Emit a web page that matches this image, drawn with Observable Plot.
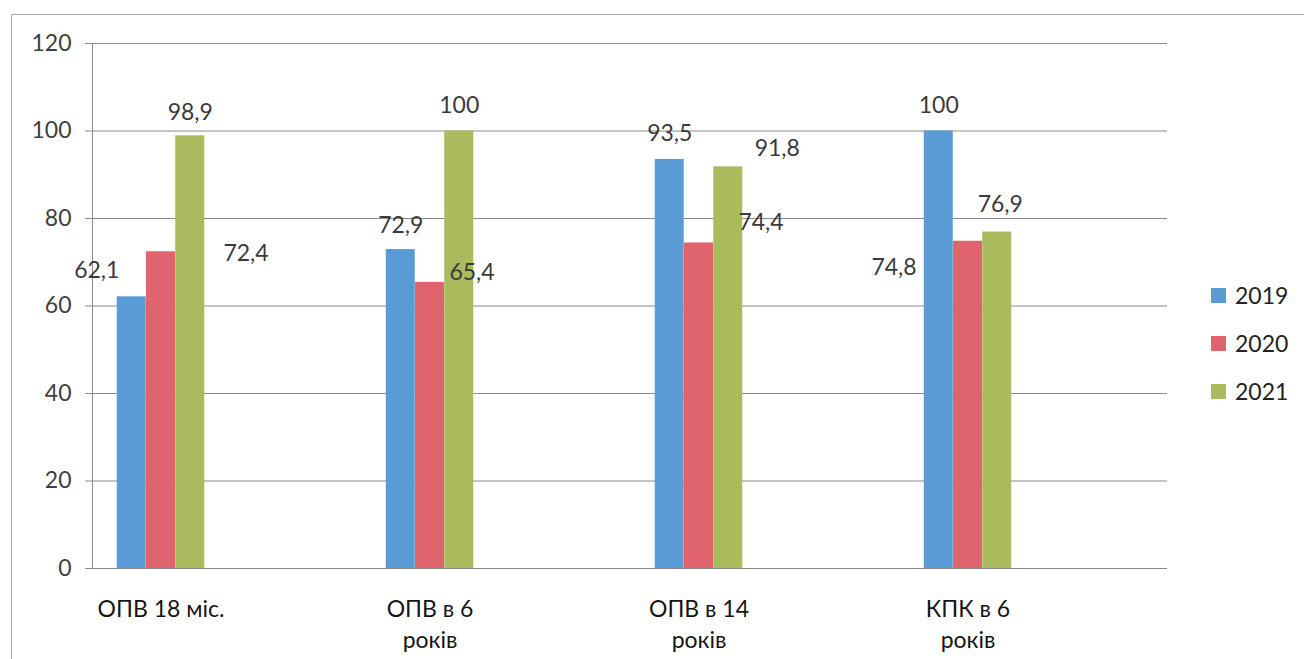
<!DOCTYPE html>
<html><head><meta charset="utf-8">
<script src="https://cdn.jsdelivr.net/npm/d3@7"></script>
<script src="https://cdn.jsdelivr.net/npm/@observablehq/plot@0.6"></script>
<style>
html,body{margin:0;padding:0;background:#fff;}
#wrap{position:relative;width:1304px;height:659px;overflow:hidden;font-family:Lato,sans-serif;background:#fff;}
#border{position:absolute;left:11px;top:14px;right:-10px;bottom:-10px;border-left:1.5px solid #a8a8a8;border-top:1.5px solid #a8a8a8;}
#chart{position:absolute;left:0;top:0;}
#legend{position:absolute;left:1211px;top:271px;}
#legend .lg-swatch{display:flex;align-items:center;height:48px;margin:0;padding:0;}
#legend .lg-swatch > svg{margin-right:9px;}
</style></head>
<body><div id="wrap"><div id="border"></div><div id="chart"></div><div id="legend"></div></div>
<script>
const categories = ["ОПВ 18 міс.", "ОПВ в 6\nроків", "ОПВ в 14\nроків", "КПК в 6\nроків"];
const years = ["2019", "2020", "2021"];
const values2019 = [62.1, 72.9, 93.5, 100];
const values2020 = [72.4, 65.4, 74.4, 74.8];
const values2021 = [98.9, 100, 91.8, 76.9];
const yTicks = [0, 20, 40, 60, 80, 100, 120];

// styling / placement (not data)
const colors = ["#5b9bd5", "#e0646e", "#a9bb5c"];
const labelNudge = [
  [[-35, -26], [0, -24], [0, -26], [0, -25]],
  [[85, 2], [42, -10], [62, -20], [-74, 26]],
  [[0, -23], [0, -25], [49, -18], [3, -27]]
];
const gridColor = "#8a8a8a";
const barStep = 29.25;

const seriesValues = [values2019, values2020, values2021];
const rows = years.flatMap((yr, s) => categories.map((c, i) => ({category: c, year: yr, value: seriesValues[s][i], s, i})));
const fmt = v => Number.isInteger(v) ? String(v) : String(v).replace(".", ",");

const chart = Plot.plot({
  width: 1304,
  height: 659,
  marginTop: 43,
  marginBottom: 91,
  marginLeft: 92,
  marginRight: 137,
  style: {fontFamily: "Lato, sans-serif", background: "transparent"},
  x: {domain: categories, range: [25, 1102], padding: 0},
  y: {domain: [0, 120]},
  marks: [
    Plot.gridY(yTicks, {stroke: gridColor, strokeOpacity: 1}),
    Plot.frame({anchor: "left", stroke: gridColor}),
    Plot.axisY({ticks: yTicks, tickSize: 7, tickPadding: 14, fontSize: 23, stroke: gridColor, fill: "#404040", label: null}),
    Plot.axisX({tickSize: 0, tickPadding: 26, fontSize: 23, fill: "#151515", lineHeight: 1.36, label: null}),
    ...years.map((yr, s) => Plot.barY(rows.filter(r => r.s === s), {
      x: "category", y: "value", fill: colors[s],
      dx: (s - 1) * barStep, insetLeft: 120, insetRight: 120
    })),
    ...rows.map(r => Plot.text([r], {
      x: "category", y: "value", text: d => fmt(d.value),
      dx: (r.s - 1) * barStep + labelNudge[r.s][r.i][0], dy: labelNudge[r.s][r.i][1],
      fontSize: 23, fill: "#3a3a3a"
    }))
  ]
});
document.getElementById("chart").append(chart);

const legend = Plot.legend({
  color: {domain: years, range: colors},
  legend: "swatches",
  columns: 1,
  swatchSize: 15,
  className: "lg",
  style: {fontSize: "23px", fontFamily: "Lato, sans-serif", color: "#222", margin: "0"}
});
document.getElementById("legend").append(legend);
</script>
</body></html>
